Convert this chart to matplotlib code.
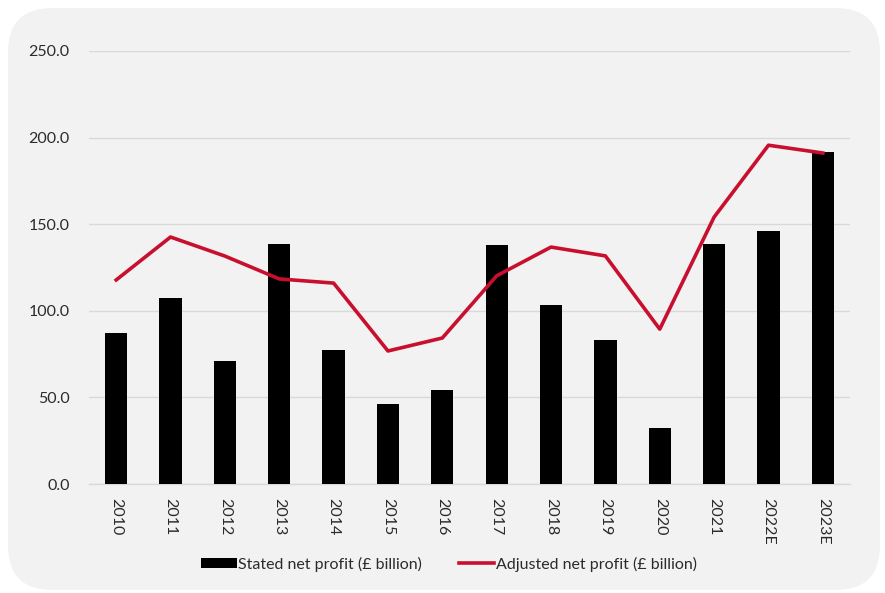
import matplotlib
matplotlib.use("Agg")
import matplotlib.pyplot as plt
from matplotlib.patches import FancyBboxPatch
from matplotlib.lines import Line2D
from matplotlib.patches import Patch

years = ["2010", "2011", "2012", "2013", "2014", "2015", "2016", "2017",
         "2018", "2019", "2020", "2021", "2022E", "2023E"]
stated = [87.2, 107.4, 71.0, 138.6, 77.4, 46.2, 54.3, 138.0, 103.3, 83.1,
          32.3, 138.6, 146.1, 191.7]
adjusted = [117.8, 142.6, 131.6, 118.4, 116.0, 76.8, 84.3, 120.2, 136.8,
            131.7, 89.4, 154.1, 195.6, 191.1]
yticks = [0, 50, 100, 150, 200, 250]

plt.rcParams['font.family'] = ['Lato', 'DejaVu Sans']
TXT = '#2b2b2b'
RED = '#C8102E'

fig = plt.figure(figsize=(8.85, 5.93), dpi=100)
fig.patch.set_facecolor('white')
panel = FancyBboxPatch((8 / 885, 3 / 593), 872 / 885, 582 / 593,
                       boxstyle="round,pad=0,rounding_size=0.05",
                       transform=fig.transFigure, facecolor='#f2f2f2',
                       edgecolor='none', zorder=-10,
                       mutation_aspect=885 / 593)
fig.patches.append(panel)

ax = fig.add_axes([89 / 885, 1 - 484 / 593, (850 - 89) / 885, 433 / 593])
ax.set_zorder(1)
ax.set_facecolor('none')
x = list(range(len(years)))
ax.bar(x, stated, width=0.41, color='black', zorder=3)
ax.plot(x, adjusted, color=RED, linewidth=2.6, zorder=4)

ax.set_ylim(0, 250)
ax.set_xlim(-0.5, len(years) - 0.5)
ax.set_yticks(yticks)
ax.set_yticklabels([f"{v:.1f}" for v in yticks], fontsize=11.5, color=TXT)
ax.set_xticks(x)
ax.set_xticklabels(years, rotation=270, fontsize=11.5, color=TXT)
ax.tick_params(axis='both', length=0)
ax.tick_params(axis='y', pad=14)
ax.tick_params(axis='x', pad=10)
ax.yaxis.grid(True, color='#d9d9d9', linewidth=1, zorder=0)
ax.set_axisbelow(True)
for s in ['top', 'right', 'left']:
    ax.spines[s].set_visible(False)
ax.spines['bottom'].set_color('#d9d9d9')
ax.spines['bottom'].set_linewidth(1)

handles = [Patch(facecolor='black', edgecolor='none'),
           Line2D([0], [0], color=RED, linewidth=2.6)]
labels = ["Stated net profit (£ billion)", "Adjusted net profit (£ billion)"]
fig.legend(handles, labels, loc='center', bbox_to_anchor=(449 / 885, 1 - 564 / 593),
           ncol=2, frameon=False, fontsize=11.5, handlelength=2.2,
           handletextpad=0.1, columnspacing=2.3, handleheight=0.6,
           labelcolor=TXT)

fig.savefig('out.png', dpi=100, facecolor=fig.get_facecolor())
